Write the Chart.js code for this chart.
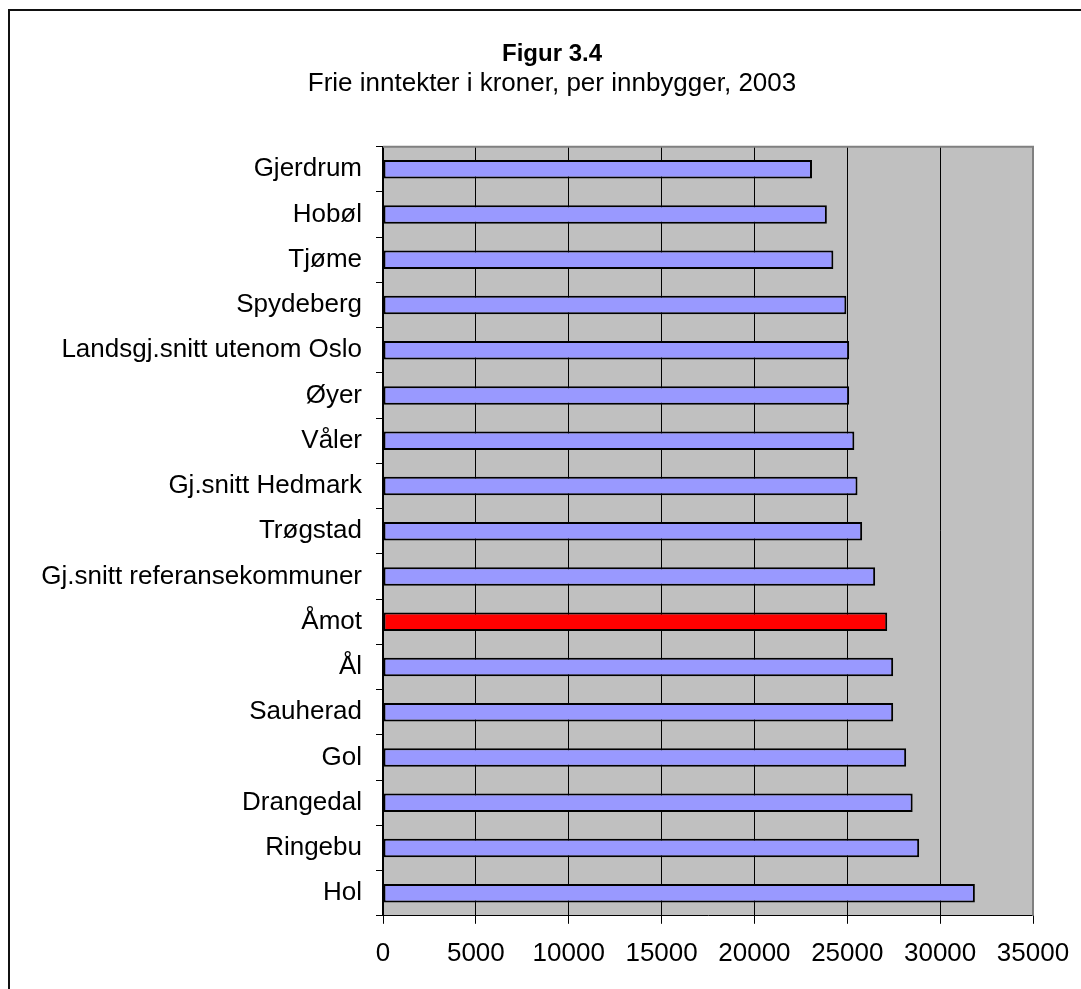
<!DOCTYPE html>
<html>
<head>
<meta charset="utf-8">
<script src="https://cdn.jsdelivr.net/npm/chart.js@4.4.0/dist/chart.umd.min.js"></script>
<style>
  html, body { margin: 0; padding: 0; background: #fff; overflow: hidden; }
  #frame { position: absolute; left: 8px; top: 9px; width: 1084px; height: 1000px; border: 2px solid #111; }
  canvas { display: block; }
</style>
</head>
<body>
<div id="frame"><canvas id="chart" width="1084" height="1000"></canvas></div>
<script>
const municipalities = [
  'Gjerdrum', 'Hobøl', 'Tjøme', 'Spydeberg', 'Landsgj.snitt utenom Oslo', 'Øyer', 'Våler',
  'Gj.snitt Hedmark', 'Trøgstad', 'Gj.snitt referansekommuner', 'Åmot', 'Ål', 'Sauherad',
  'Gol', 'Drangedal', 'Ringebu', 'Hol'
];
const incomePerCapita = [
  23100, 23900, 24250, 24950, 25100, 25100, 25380,
  25550, 25800, 26500, 27150, 27470, 27470,
  28170, 28520, 28870, 31870
];
const highlighted = 'Åmot';
const xMin = 0, xMax = 35000, xStep = 5000;

const FONT = '"Liberation Sans", Arial, sans-serif';

// grey plot area + grey top/right edge, like the old Excel chart
const PlotBg = {
  id: 'plotBg',
  beforeDraw(chart) {
    const { ctx, chartArea: a } = chart;
    ctx.save();
    ctx.fillStyle = '#c0c0c0';
    ctx.fillRect(a.left, a.top, a.right - a.left, a.bottom - a.top);
    ctx.restore();
  },
  beforeDatasetsDraw(chart) {
    const { ctx, chartArea: a } = chart;
    ctx.save();
    ctx.strokeStyle = '#808080';
    ctx.lineWidth = 2;
    ctx.beginPath();
    ctx.moveTo(a.left, a.top);
    ctx.lineTo(a.right, a.top);
    ctx.lineTo(a.right, a.bottom);
    ctx.stroke();
    ctx.restore();
  }
};

new Chart(document.getElementById('chart'), {
  type: 'bar',
  data: {
    labels: municipalities,
    datasets: [{
      data: incomePerCapita,
      backgroundColor: municipalities.map(m => m === highlighted ? '#ff0000' : '#9999ff'),
      borderColor: '#000',
      borderWidth: 2,
      borderSkipped: false,
      categoryPercentage: 1,
      barPercentage: 0.41
    }]
  },
  options: {
    indexAxis: 'y',
    responsive: false,
    animation: false,
    devicePixelRatio: 1,
    layout: { padding: { top: 0, left: 0, right: 0, bottom: 28 } },
    plugins: {
      legend: { display: false },
      tooltip: { enabled: false },
      title: {
        display: true, text: 'Figur 3.4', color: '#000',
        font: { family: FONT, size: 24, weight: 'bold', lineHeight: 1.2 },
        padding: { top: 29, bottom: 0 }
      },
      subtitle: {
        display: true, text: 'Frie inntekter i kroner, per innbygger, 2003', color: '#000',
        font: { family: FONT, size: 26, weight: 'normal', lineHeight: 1.15 },
        padding: { top: 0, bottom: 48 }
      }
    },
    scales: {
      x: {
        min: xMin, max: xMax,
        ticks: {
          stepSize: xStep, color: '#000', padding: 14, maxRotation: 0,
          font: { family: FONT, size: 26 },
          callback: v => String(v)
        },
        grid: {
          color: ctx => ctx.tick && ctx.tick.value === xMax ? '#808080' : '#000',
          lineWidth: 1, tickLength: 8, tickColor: '#000'
        },
        border: { display: true, color: '#000', width: 1 }
      },
      y: {
        ticks: { color: '#000', padding: 14, font: { family: FONT, size: 26 } },
        grid: { drawOnChartArea: false, drawTicks: true, tickLength: 7, tickColor: '#000', offset: true },
        border: { display: true, color: '#000', width: 2 },
        afterFit: s => { s.width = 373; }
      },
      // empty right-hand spacer so the title stays centred on the whole frame
      spacer: {
        type: 'category', axis: 'y', position: 'right',
        ticks: { display: false },
        grid: { display: false },
        border: { display: false },
        afterFit: s => { s.width = 61; }
      }
    }
  },
  plugins: [PlotBg]
});
</script>
</body>
</html>
